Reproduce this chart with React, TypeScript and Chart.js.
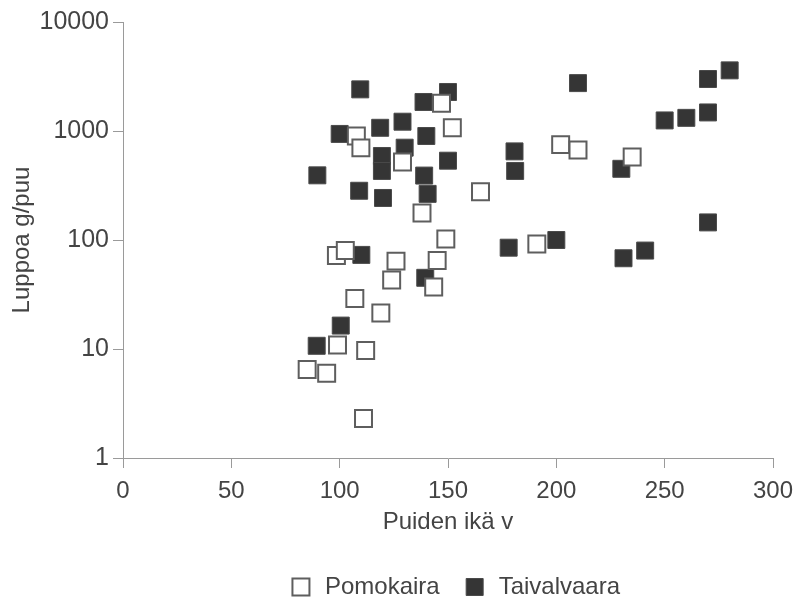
import React, { useEffect, useRef } from "react";
import { Chart, registerables } from "chart.js";

Chart.register(...registerables);

// Pomokaira (open squares): tree age (years) and lichen amount (g/tree)
const pomokairaAge = [85, 94, 99, 112, 111, 98.5, 102.6, 107, 119, 124, 126, 143.4, 145, 149, 138, 165, 191, 202, 210, 235, 107.7, 109.8, 129, 147, 152];
const pomokairaLuppo = [6.5, 6.0, 10.9, 9.7, 2.3, 72, 80, 29, 21.4, 43, 64, 37, 65, 102, 177, 277, 92, 750, 670, 577, 900, 700, 520, 1800, 1070];

// Taivalvaara (filled squares)
const taivalAge = [89.7, 100, 109.5, 109, 110, 100.5, 89.4, 118.7, 119.5, 119.5, 120, 129, 130, 138.7, 140, 139, 140.6, 139.5, 150, 150, 180.7, 181, 178, 200, 210, 230, 231, 241, 250, 260, 270, 270, 280, 270];
const taivalLuppo = [392, 940, 2410, 283, 73, 16.4, 10.7, 1070, 590, 430, 243, 1217, 703, 1846, 900, 390, 265, 45, 2280, 534, 650, 430, 85, 100, 2750, 450, 68, 80, 1250, 1320, 1480, 3000, 3600, 145];

const seriesNames = ["Pomokaira", "Taivalvaara"];
const xTicks = [0, 50, 100, 150, 200, 250, 300];
const yTicks = [1, 10, 100, 1000, 10000];
const xTitle = "Puiden ikä v";
const yTitle = "Luppoa g/puu";

// shifts the legend row so it sits under the plot like in the reference
const legendPlacement = {
  id: "legendPlacement",
  beforeDraw(chart: any) {
    const lg = chart.legend;
    if (lg) {
      lg.left = 115;
      lg.right = 794;
    }
  },
};

export default function App() {
  const ref = useRef<HTMLCanvasElement>(null);

  useEffect(() => {
    const family = "'Liberation Sans', Arial, Helvetica, sans-serif";
    const textColor = "#444444";
    const axisColor = "#9a9a9a";
    const chart = new Chart(ref.current as HTMLCanvasElement, {
      type: "scatter",
      data: {
        datasets: [
          {
            label: seriesNames[0],
            data: pomokairaAge.map((x, i) => ({ x, y: pomokairaLuppo[i] })),
            pointStyle: "rect",
            pointRadius: 12,
            pointHoverRadius: 12,
            backgroundColor: "#ffffff",
            borderColor: "#5e5e5e",
            borderWidth: 2,
          },
          {
            label: seriesNames[1],
            data: taivalAge.map((x, i) => ({ x, y: taivalLuppo[i] })),
            pointStyle: "rect",
            pointRadius: 12,
            pointHoverRadius: 12,
            backgroundColor: "#353535",
            borderColor: "#4a4a4a",
            borderWidth: 1,
          },
        ],
      },
      plugins: [legendPlacement],
      options: {
        responsive: false,
        animation: false,
        layout: { padding: { top: 22, right: 21, left: 0, bottom: -10 } },
        plugins: {
          legend: {
            position: "bottom",
            labels: {
              usePointStyle: true,
              boxWidth: 24,
              boxHeight: 17,
              padding: 23,
              color: textColor,
              font: { family, size: 24 },
            },
          },
          tooltip: { enabled: false },
        },
        scales: {
          x: {
            type: "linear",
            min: 0,
            max: 300,
            afterFit: (s: any) => {
              s.height = 94;
              s.paddingLeft = 0;
              s.paddingRight = 0;
            },
            afterBuildTicks: (s: any) => {
              s.ticks = xTicks.map((v) => ({ value: v }));
            },
            grid: { drawOnChartArea: false, drawTicks: true, tickLength: 10, color: axisColor },
            border: { color: axisColor, width: 1 },
            ticks: { padding: 9, color: textColor, font: { family, size: 24 }, maxRotation: 0 },
            title: {
              display: true,
              text: xTitle,
              color: textColor,
              font: { family, size: 24 },
              padding: { top: 0, bottom: 15 },
            },
          },
          y: {
            type: "logarithmic",
            min: 1,
            max: 10000,
            afterFit: (s: any) => {
              s.width = 123;
            },
            afterBuildTicks: (s: any) => {
              s.ticks = yTicks.map((v) => ({ value: v }));
            },
            grid: { drawOnChartArea: false, drawTicks: true, tickLength: 10, color: axisColor },
            border: { color: axisColor, width: 1 },
            ticks: {
              padding: 4,
              color: textColor,
              font: { family, size: 25 },
              callback: (v: any) => String(v),
            },
            title: {
              display: true,
              text: yTitle,
              color: textColor,
              font: { family, size: 24 },
              padding: { top: 8, bottom: 0 },
            },
          },
        },
      },
    } as any);
    return () => chart.destroy();
  }, []);

  return (
    <div style={{ position: "absolute", left: 0, top: 0, width: 794, height: 599, background: "#ffffff" }}>
      <canvas ref={ref} width={794} height={599} style={{ display: "block" }} />
    </div>
  );
}
